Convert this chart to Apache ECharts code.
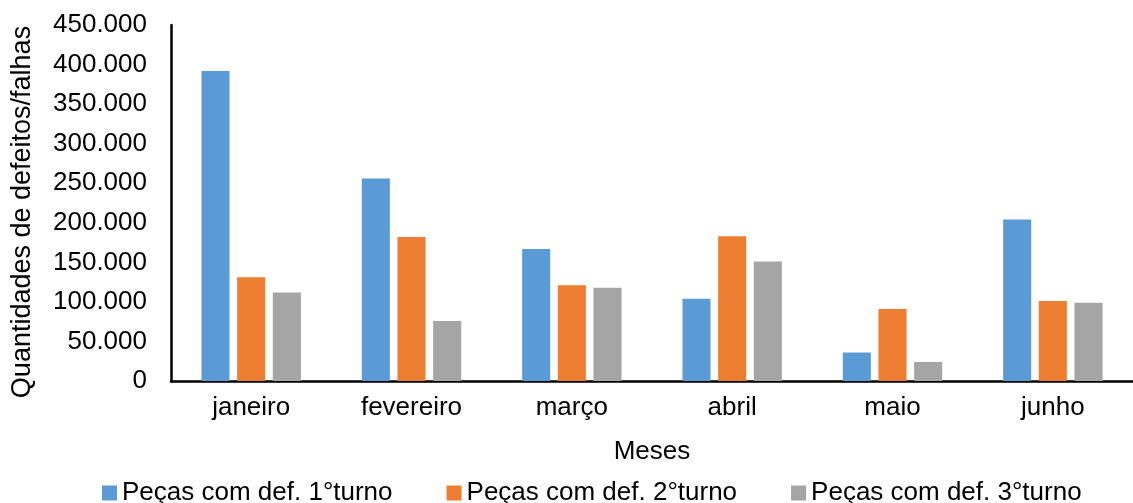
<!DOCTYPE html>
<html>
<head>
<meta charset="utf-8">
<script src="https://cdn.jsdelivr.net/npm/echarts@6/dist/echarts.min.js"></script>
<style>
  html, body { margin: 0; padding: 0; background: #fff; }
  #chart { width: 1133px; height: 503px; }
</style>
</head>
<body>
<div id="chart"></div>
<script>
// Meses do semestre
const meses = ['janeiro', 'fevereiro', 'março', 'abril', 'maio', 'junho'];

// Peças com defeito por turno
const turno1 = [392000, 256000, 167000, 104000, 36000, 204000];
const turno2 = [131000, 182000, 121000, 183000, 91000, 101000];
const turno3 = [112000, 76000, 118000, 151000, 24000, 99000];

const nomesSeries = ['Peças com def. 1°turno', 'Peças com def. 2°turno', 'Peças com def. 3°turno'];
const cores = ['#5B9BD5', '#ED7D31', '#A5A5A5'];

// Escala do eixo Y
const yMin = 0, yMax = 450000, yPasso = 50000;

const fonte = '"Liberation Sans", Arial, sans-serif';

// Separador de milhar com ponto (pt-BR)
function milhar(v) {
  return String(Math.round(v)).replace(/\B(?=(\d{3})+(?!\d))/g, '.');
}

const chart = echarts.init(document.getElementById('chart'), null, { renderer: 'canvas' });

const serieBase = (nome, dados, cor) => ({
  name: nome,
  type: 'bar',
  data: dados,
  barGap: '27%',
  barCategoryGap: '38%',
  itemStyle: { color: cor },
  emphasis: { disabled: true }
});

chart.setOption({
  animation: false,
  textStyle: { fontFamily: fonte, color: '#000' },
  grid: { left: 171, top: 25, width: 971, height: 356, containLabel: false },
  legend: {
    left: 97,
    top: 475,
    itemWidth: 15,
    itemHeight: 15,
    itemGap: 54,
    icon: 'rect',
    textStyle: { fontFamily: fonte, fontSize: 26, color: '#000' },
    data: nomesSeries
  },
  xAxis: {
    type: 'category',
    data: meses,
    name: 'Meses',
    nameLocation: 'middle',
    nameGap: 58,
    nameTextStyle: { fontFamily: fonte, fontSize: 26, color: '#000' },
    axisLine: { lineStyle: { color: '#000', width: 2.5 } },
    axisTick: { show: false },
    axisLabel: { fontFamily: fonte, fontSize: 26, color: '#000', margin: 14 },
    splitLine: { show: false }
  },
  yAxis: {
    type: 'value',
    min: yMin,
    max: yMax,
    interval: yPasso,
    name: 'Quantidades de defeitos/falhas',
    nameLocation: 'middle',
    nameGap: 135,
    nameTextStyle: { fontFamily: fonte, fontSize: 27, color: '#000', padding: [0, 18, 0, 0] },
    axisLine: { show: true, lineStyle: { color: '#000', width: 2.5 } },
    axisTick: { show: false },
    splitLine: { show: false },
    axisLabel: {
      fontFamily: fonte, fontSize: 26, color: '#000', margin: 24,
      formatter: milhar
    }
  },
  series: [
    serieBase(nomesSeries[0], turno1, cores[0]),
    serieBase(nomesSeries[1], turno2, cores[1]),
    serieBase(nomesSeries[2], turno3, cores[2])
  ]
});
</script>
</body>
</html>
